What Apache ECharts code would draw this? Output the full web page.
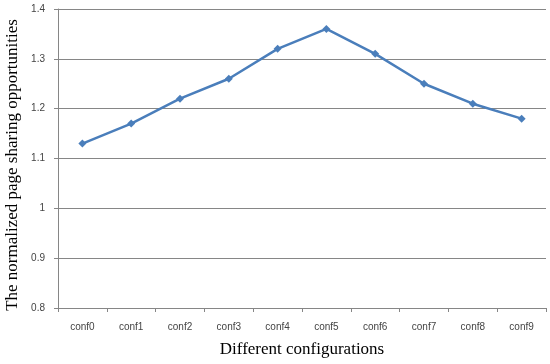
<!DOCTYPE html>
<html><head><meta charset="utf-8">
<script src="https://cdn.jsdelivr.net/npm/echarts@6/dist/echarts.min.js"></script>
<style>html,body{margin:0;padding:0;background:#fff}#c{width:550px;height:364px}</style>
</head><body><div id="c"></div>
<script>
const categories = ['conf0','conf1','conf2','conf3','conf4','conf5','conf6','conf7','conf8','conf9'];
const values = [1.13, 1.17, 1.22, 1.26, 1.32, 1.36, 1.31, 1.25, 1.21, 1.18];
const yTicks = [0.8, 0.9, 1, 1.1, 1.2, 1.3, 1.4];
const yTitle = 'The normalized page sharing opportunities';
const xTitle = 'Different configurations';
const chart = echarts.init(document.getElementById('c'));
chart.setOption({
  animation: false,
  grid: {left: 58, right: 4, top: 9, bottom: 56, containLabel: false, outerBoundsMode: 'none'},
  graphic: [{
    type: 'text', x: 13, y: 165, rotation: Math.PI / 2,
    style: {text: yTitle, fontFamily: 'Liberation Serif', fontSize: 17, fill: '#000',
      align: 'center', verticalAlign: 'middle'}
  }],
  xAxis: {
    type: 'category', data: categories, boundaryGap: true,
    name: xTitle, nameLocation: 'middle', nameGap: 33,
    nameTextStyle: {fontFamily: 'Liberation Serif', fontSize: 17, color: '#000'},
    axisLine: {lineStyle: {color: '#868686'}},
    axisTick: {show: true, length: 4, lineStyle: {color: '#868686'}},
    axisLabel: {fontFamily: 'Liberation Sans', fontSize: 10, color: '#444', margin: 14}
  },
  yAxis: {
    type: 'value', min: 0.8, max: 1.4, interval: 0.1,
    axisLine: {show: true, lineStyle: {color: '#868686'}},
    axisTick: {show: true, length: 4, lineStyle: {color: '#868686'}},
    axisLabel: {fontFamily: 'Liberation Sans', fontSize: 10, color: '#444', margin: 13,
      formatter: v => { const t = yTicks.find(x => Math.abs(x - v) < 1e-6); return t === undefined ? '' : String(t); }},
    splitLine: {lineStyle: {color: '#868686', width: 1}}
  },
  series: [{
    type: 'line', data: values,
    lineStyle: {color: '#4A7EBB', width: 2.5},
    itemStyle: {color: '#4A7EBB'},
    symbol: 'diamond', symbolSize: 8
  }]
});
</script></body></html>
